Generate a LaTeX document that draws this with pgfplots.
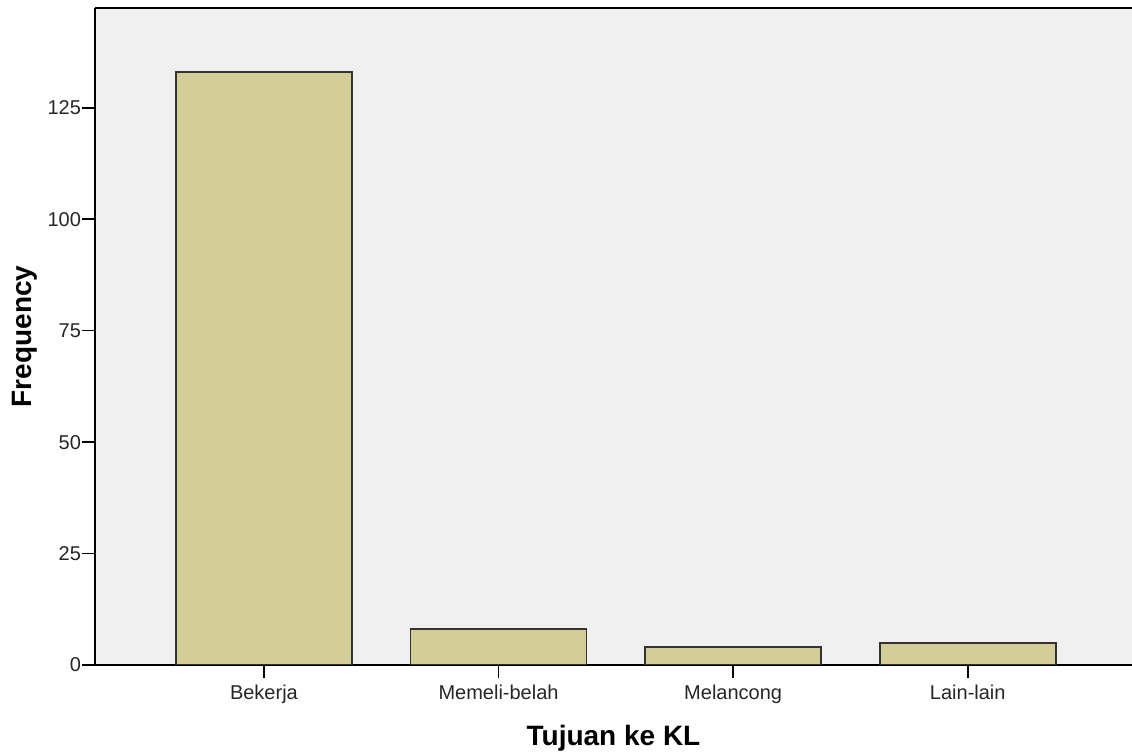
\documentclass[border=0pt]{standalone}
\usepackage{fontspec}
\setmainfont{Liberation Sans}
\usepackage{pgfplots}
\pgfplotsset{compat=1.18}
\definecolor{bg}{HTML}{F0F0F0}
\definecolor{barfill}{RGB}{211,206,152}
\definecolor{barline}{HTML}{333333}
\begin{document}
\begin{tikzpicture}
\useasboundingbox (-47.5pt,-44.5pt) rectangle (518.5pt,332.5pt);
\begin{axis}[
  at={(0pt,0pt)}, anchor=south west,
  scale only axis, width=518.5pt, height=328.5pt,
  xmin=-0.72, xmax=3.70, ymin=0, ymax=147.4,
  axis background/.style={fill=bg},
  axis x line*=bottom, axis y line*=left,
  axis line style={-, line width=1pt, black},
  xtick={0,1,2,3},
  xticklabels={Bekerja,Memeli-belah,Melancong,Lain-lain},
  ytick={0,25,50,75,100,125},
  tick align=outside, major tick length=6.5pt,
  tick style={black, line width=0.8pt},
  tick label style={font=\fontsize{10}{12}\selectfont, text=black!85},
  yticklabel style={xshift=3pt},
  /pgf/number format/assume math mode=true,
  xlabel={Tujuan ke KL}, ylabel={Frequency},
  label style={font=\bfseries\fontsize{14}{16}\selectfont},
  xlabel style={at={(axis description cs:0.5,0)}, anchor=center, yshift=-36.5pt},
  ylabel style={at={(axis description cs:0,0.5)}, anchor=center, rotate=0, yshift=35pt},
]
\addplot[ybar, bar width=88pt, fill=barfill, draw=barline, line width=0.9pt] coordinates {(0,133) (1,8) (2,4) (3,5)};
\draw[black, line width=1pt] (rel axis cs:0,1) -- (rel axis cs:1,1);
\end{axis}
\end{tikzpicture}
\end{document}
